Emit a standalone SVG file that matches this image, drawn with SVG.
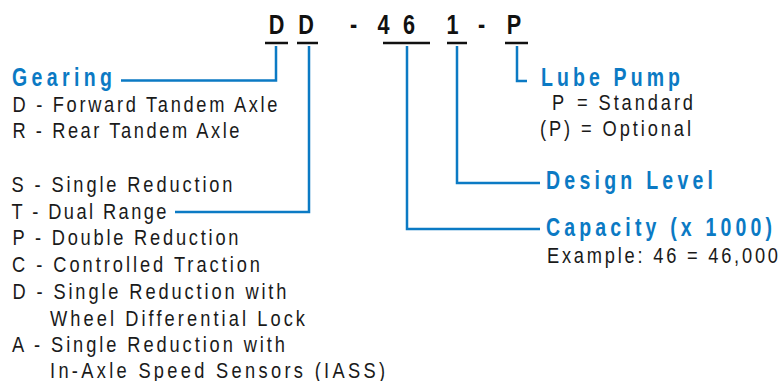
<svg xmlns="http://www.w3.org/2000/svg" width="780" height="381" viewBox="0 0 780 381">
<style>
.code{font-family:"Liberation Sans",Arial,sans-serif;font-weight:bold;font-size:28.5px;fill:#111;text-anchor:middle}
.head{font-family:"Liberation Sans",Arial,sans-serif;font-weight:bold;font-size:25px;fill:#0b7ac4}
.body{font-family:"Liberation Sans",Arial,sans-serif;font-size:22px;fill:#1a1a1a}
.ul{stroke:#111;stroke-width:2.5;fill:none}
.conn{stroke:#0b7ac4;stroke-width:2.5;fill:none}
</style>
<rect width="780" height="381" fill="#fff"/>
<g id="code">
<text class="code" transform="translate(276.5,33.5) scale(0.76,1)">D</text>
<text class="code" transform="translate(306,33.5) scale(0.76,1)">D</text>
<text class="code" transform="translate(353.5,33.5) scale(0.76,1)">-</text>
<text class="code" transform="translate(383.5,33.5) scale(0.76,1)">4</text>
<text class="code" transform="translate(409,33.5) scale(0.76,1)">6</text>
<text class="code" transform="translate(452.5,33.5) scale(0.76,1)">1</text>
<text class="code" transform="translate(481.5,33.5) scale(0.76,1)">-</text>
<text class="code" transform="translate(514,33.5) scale(0.76,1)">P</text>
<path class="ul" d="M265,43H288M297,43H318M383,43H430M447,43H467M505,43H528"/>
</g>
<g id="connectors">
<path class="conn" d="M276,46V80.5H121"/>
<path class="conn" d="M309,46V212H175"/>
<path class="conn" d="M407,46V229H540"/>
<path class="conn" d="M457,46V183H540"/>
<path class="conn" d="M517,46V81H527"/>
</g>
<g id="gearing">
<text class="head" transform="translate(12,86) scale(0.78,1)" textLength="128.2" lengthAdjust="spacing">Gearing</text>
<text class="body" transform="translate(12.5,111.5) scale(0.83,1)" textLength="319.3" lengthAdjust="spacing">D - Forward Tandem Axle</text>
<text class="body" transform="translate(12.5,138) scale(0.83,1)" textLength="273.5" lengthAdjust="spacing">R - Rear Tandem Axle</text>
</g>
<g id="type">
<text class="body" transform="translate(11.5,191.5) scale(0.83,1)" textLength="266.3" lengthAdjust="spacing">S - Single Reduction</text>
<text class="body" transform="translate(11.5,218.5) scale(0.83,1)" textLength="186.7" lengthAdjust="spacing">T - Dual Range</text>
<text class="body" transform="translate(12.5,245) scale(0.83,1)" textLength="272.3" lengthAdjust="spacing">P - Double Reduction</text>
<text class="body" transform="translate(12,272) scale(0.83,1)" textLength="298.8" lengthAdjust="spacing">C - Controlled Traction</text>
<text class="body" transform="translate(12.5,299) scale(0.83,1)" textLength="330.1" lengthAdjust="spacing">D - Single Reduction with</text>
<text class="body" transform="translate(50,325.5) scale(0.83,1)" textLength="307.2" lengthAdjust="spacing">Wheel Differential Lock</text>
<text class="body" transform="translate(12,352) scale(0.83,1)" textLength="328.9" lengthAdjust="spacing">A - Single Reduction with</text>
<text class="body" transform="translate(50,378) scale(0.83,1)" textLength="403.6" lengthAdjust="spacing">In-Axle Speed Sensors (IASS)</text>
</g>
<g id="lube">
<text class="head" transform="translate(541,86) scale(0.78,1)" textLength="178.2" lengthAdjust="spacing">Lube Pump</text>
<text class="body" transform="translate(552,110) scale(0.83,1)">P</text>
<text class="body" transform="translate(577,110) scale(0.83,1)" textLength="139.8" lengthAdjust="spacing">= Standard</text>
<text class="body" transform="translate(540,136) scale(0.83,1)" textLength="181.9" lengthAdjust="spacing">(P) = Optional</text>
</g>
<g id="design">
<text class="head" transform="translate(546,189) scale(0.78,1)" textLength="214.1" lengthAdjust="spacing">Design Level</text>
</g>
<g id="capacity">
<text class="head" transform="translate(546,236) scale(0.78,1)" textLength="289.7" lengthAdjust="spacing">Capacity (x 1000)</text>
<text class="body" transform="translate(547,262.5) scale(0.83,1)" textLength="278.3" lengthAdjust="spacing">Example: 46 = 46,000</text>
</g>
</svg>
